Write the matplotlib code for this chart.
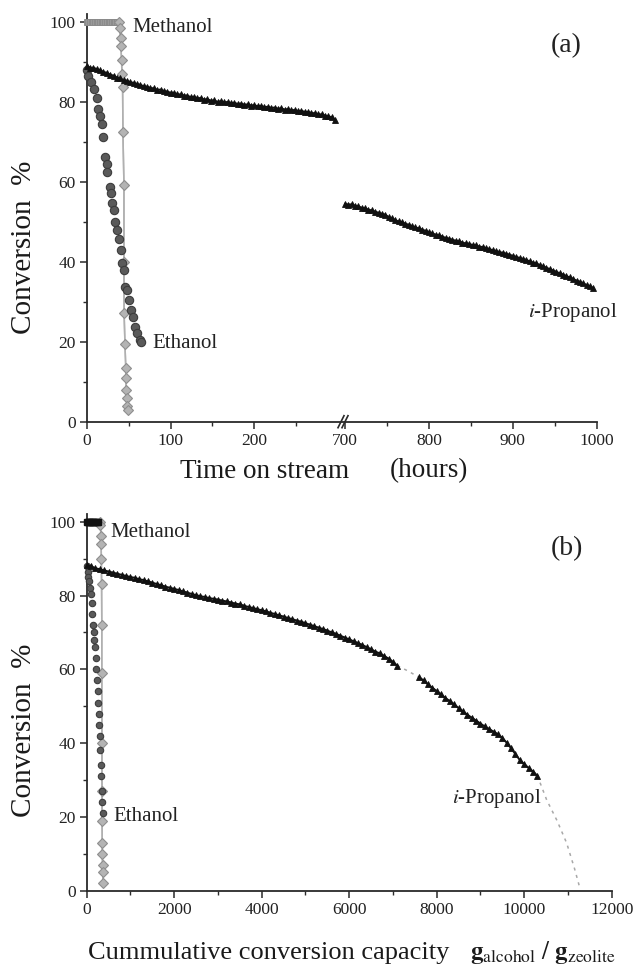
import numpy as np
import matplotlib
matplotlib.use('Agg')
import matplotlib.pyplot as plt
from matplotlib.ticker import MultipleLocator, FixedLocator

plt.rcParams['font.family'] = ['Liberation Serif', 'DejaVu Serif']
plt.rcParams['mathtext.fontset'] = 'stix'

# ---------------- data: panel (a)  time on stream (hours) ----------------
met_a_sq_t = [0, 2, 4, 6, 8, 10, 12, 14, 16, 18, 20, 22, 24, 26, 28, 30, 32, 34, 36]
met_a_sq_v = [100, 100, 100, 100, 100, 100, 100, 100, 100, 100, 100, 100, 100, 100, 100, 100, 100, 100, 100]
met_a_dm_t = [38.5, 39.2, 40.4, 40.8, 41.6, 42.0, 42.8, 43.2, 44.4, 44.4, 44.6, 45.6, 46.6, 46.8, 47.0, 47.6, 48.6, 49.4]
met_a_dm_v = [100, 98.5, 96, 94, 90.4, 87, 83.8, 72.6, 59.2, 40, 27.3, 19.5, 13.5, 11, 8, 6, 4, 3]

eth_a_t = [0, 1.6, 5.6, 8.8, 11.9, 13.9, 15.9, 17.9, 19.1, 21.9, 23.9, 24.8, 28, 29.2, 30, 32,
           34, 36, 38, 40.9, 42, 44, 46, 48, 50, 52.8, 55.3, 57.3, 60, 63.3, 65.3]
eth_a_v = [88, 86.5, 84.9, 83.2, 81.1, 78.2, 76.6, 74.5, 71.2, 66.2, 64.5, 62.5, 58.7, 57.1, 54.6, 52.9,
           50, 47.9, 45.8, 43, 39.6, 37.9, 33.7, 32.9, 30.4, 27.9, 26.3, 23.8, 22.1, 20.4, 20]

ipa_a1_v = [89.0, 88.4, 88.6, 88.2, 87.9, 87.5, 87.3, 86.8, 86.6, 86.1, 85.9, 85.4, 85.3, 84.9, 84.8,
            84.4, 84.3, 83.9, 83.8, 83.5, 83.4, 83.0, 83.1, 82.7, 82.6, 82.3, 82.3, 81.9, 81.9, 81.6,
            81.6, 81.2, 81.3, 80.9, 81.0, 80.6, 80.7, 80.3, 80.4, 80.0, 80.2, 79.9, 80.0, 79.7, 79.8,
            79.5, 79.6, 79.3, 79.4, 79.1, 79.2, 78.9, 79.0, 78.7, 78.8, 78.5, 78.6, 78.3, 78.4, 78.1,
            78.2, 77.9, 78.0, 77.7, 77.8, 77.5, 77.5, 77.2, 77.2, 76.9, 76.9, 76.6, 76.4, 76.2, 75.6]
ipa_a1_t = np.arange(0, 300, 4)
ipa_a2_v = [54.5, 54.3, 54.4, 54.0, 53.9, 53.5, 53.4, 53.0, 52.9, 52.5, 52.3, 52.0, 51.8, 51.2, 50.9,
            50.4, 50.1, 49.9, 49.5, 49.3, 48.9, 48.6, 48.4, 48.0, 47.8, 47.4, 47.1, 46.8, 46.6, 46.3,
            46.0, 45.8, 45.5, 45.3, 45.1, 44.8, 44.6, 44.5, 44.2, 44.1, 43.8, 43.7, 43.4, 43.2, 42.9,
            42.7, 42.4, 42.3, 42.0, 41.8, 41.5, 41.2, 41.0, 40.7, 40.5, 40.1, 39.8, 39.6, 39.2, 38.9,
            38.5, 38.2, 37.8, 37.5, 37.1, 36.8, 36.4, 36.1, 35.7, 35.3, 35.0, 34.6, 34.2, 33.9, 33.4]
ipa_a2_t = np.arange(700, 1000, 4)

# ---------------- data: panel (b)  cumulative capacity (g/g) ----------------
met_b_sq_x = [0, 25, 50, 75, 100, 125, 150, 175, 200, 225, 250]
met_b_sq_v = [100, 100, 100, 100, 100, 100, 100, 100, 100, 100, 100]
met_b_dm_x = [305, 315, 325, 330, 335, 340, 345, 345, 348, 350, 352, 355, 358, 362, 366, 370]
met_b_dm_v = [100, 99, 96, 94, 90, 83, 72, 59, 40, 27, 19, 13, 10, 7, 5, 2]

eth_b_x = [0, 20, 40, 60, 80, 100, 115, 130, 145, 160, 175, 190, 205, 220, 235, 250,
           262, 275, 288, 300, 312, 325, 335, 345, 355, 365]
eth_b_v = [88, 86.5, 85, 84, 82, 80.5, 78, 75, 72, 70, 68, 66, 63, 60, 57, 54,
           51, 48, 45, 42, 38, 34, 31, 27, 24, 21]

ipa_b1_v = [88.3, 87.9, 87.4, 87.1, 86.8, 86.5, 86.2, 85.9, 85.6, 85.3, 85.0, 84.8, 84.4, 84.2, 83.8,
            83.5, 83.1, 82.8, 82.4, 82.1, 81.8, 81.5, 81.1, 80.8, 80.4, 80.1, 79.8, 79.6, 79.3, 79.1,
            78.9, 78.6, 78.4, 78.1, 77.8, 77.6, 77.2, 76.9, 76.6, 76.3, 76.0, 75.7, 75.3, 75.0, 74.6,
            74.3, 73.9, 73.6, 73.2, 72.9, 72.5, 72.1, 71.7, 71.3, 70.9, 70.5, 70.0, 69.6, 69.1, 68.6,
            68.1, 67.6, 67.1, 66.6, 66.0, 65.4, 64.8, 64.3, 63.6, 62.9, 62.0, 61.0]
ipa_b1_x = np.arange(0, 7200, 100)
ipa_b2_v = [57.8, 57.0, 55.9, 55.0, 54.1, 53.2, 52.2, 51.4, 50.5, 49.5, 48.6, 47.7, 46.9, 46.1,
            45.3, 44.5, 43.8, 43.1, 42.4, 41.4, 40.1, 38.6, 37.0, 35.4, 34.3, 33.3, 32.3, 31.2]
ipa_b2_x = np.arange(7600, 10400, 100)
gap_b_x = [7100, 7350, 7600]
gap_b_v = [61.0, 59.5, 57.8]
ext_b_x = [10300, 10514, 10750, 10971, 11150, 11275]
ext_b_v = [31.2, 24.6, 19.0, 12.9, 6.0, 0.6]

# ---------------- layout (pixels) ----------------
W, H = 635, 967
fig = plt.figure(figsize=(W / 100, H / 100), dpi=100)


def fx(px):
    return px / W


def fy(py):
    return 1 - py / H


YMAX = 102
# panel (a)
a_y0, a_y100 = 421.7, 22.0
a_ppu = (a_y0 - a_y100) / 100
a_top = a_y0 - YMAX * a_ppu
a_x0, a_xb, a_x1 = 86.7, 345.0, 596.7
a_h = (a_y0 - a_top) / H
axL = fig.add_axes([fx(a_x0), fy(a_y0), (a_xb - a_x0) / W, a_h])
axR = fig.add_axes([fx(a_xb), fy(a_y0), (a_x1 - a_xb) / W, a_h], sharey=axL)
axL.set_xlim(0, 308)
axR.set_xlim(700, 1000)

# panel (b)
b_y0, b_y100 = 890.7, 521.7
b_ppu = (b_y0 - b_y100) / 100
b_top = b_y0 - YMAX * b_ppu
b_x0, b_x1 = 86.7, 611.7
axB = fig.add_axes([fx(b_x0), fy(b_y0), (b_x1 - b_x0) / W, (b_y0 - b_top) / H])
axB.set_xlim(0, 12000)

SPC = '#2a2a2a'
for ax in (axL, axR, axB):
    ax.set_ylim(0, YMAX)
    for s in ('top', 'right'):
        ax.spines[s].set_visible(False)
    for s in ('left', 'bottom'):
        ax.spines[s].set_linewidth(1.3)
        ax.spines[s].set_color(SPC)
    ax.tick_params(which='major', direction='out', length=5, width=1.1, colors=SPC,
                   labelsize=12.5, pad=3, labelcolor='#222222')
    ax.tick_params(which='minor', direction='out', length=3, width=1.0, colors=SPC)
    ax.patch.set_alpha(0)

axR.spines['left'].set_visible(False)
axR.tick_params(axis='y', which='both', left=False, labelleft=False)

for ax in (axL, axB):
    ax.yaxis.set_major_locator(FixedLocator([0, 20, 40, 60, 80, 100]))
    ax.yaxis.set_minor_locator(FixedLocator([10, 30, 50, 70, 90]))
axL.xaxis.set_major_locator(FixedLocator([0, 100, 200]))
axL.xaxis.set_minor_locator(FixedLocator([50, 150, 250]))
axR.xaxis.set_major_locator(FixedLocator([700, 800, 900, 1000]))
axR.xaxis.set_minor_locator(FixedLocator([750, 850, 950]))
axB.xaxis.set_major_locator(MultipleLocator(2000))
axB.xaxis.set_minor_locator(MultipleLocator(1000))

# ---------------- styles ----------------
MET_LINE = '#b0b0b0'
sq_a = dict(marker='s', ms=4.2, mfc='#9a9a9a', mec='#8a8a8a', mew=0.6, ls='none')
dm = dict(marker='D', ms=4.6, mfc='#b4b4b4', mec='#8e8e8e', mew=0.8)
eth = dict(marker='o', ms=6.0, mfc='#5a5a5a', mec='#3c3c3c', mew=0.8, ls='none')
ipa = dict(marker='^', ms=4.7, mfc='#111111', mec='#111111', mew=0.6, color='#111111', lw=1.4)

# ---------------- panel (a) ----------------
axL.plot(met_a_sq_t + met_a_dm_t, met_a_sq_v + met_a_dm_v, color=MET_LINE, lw=1.1, zorder=2)
axL.plot(met_a_sq_t, met_a_sq_v, clip_on=False, zorder=3, **sq_a)
axL.plot(met_a_dm_t, met_a_dm_v, color=MET_LINE, lw=1.1, clip_on=False, zorder=4, **dm)
axL.plot(eth_a_t, eth_a_v, clip_on=False, zorder=5, **eth)
axL.plot(ipa_a1_t, ipa_a1_v, clip_on=False, zorder=6, **ipa)
axR.plot(ipa_a2_t, ipa_a2_v, clip_on=False, zorder=6, **ipa)

tfs = 15
axL.text(55, 98.5, 'Methanol', fontsize=tfs, va='center', ha='left', color='#222222')
axL.text(78, 19.6, 'Ethanol', fontsize=tfs, va='center', ha='left', color='#222222')
axR.text(918, 27.3, r'$\mathit{i}$-Propanol', fontsize=tfs, va='center', ha='left',
         color='#222222', clip_on=False)
axR.text(964, 94, '(a)', fontsize=20, va='center', ha='center', color='#222222')

# axis break marks at 700
sx, sy = 1.0 / (a_x1 - a_xb), 1.0 / (a_y0 - a_top)
for off in (-4, 0):
    axR.plot([(off - 3) * sx, (off + 3) * sx], [-6 * sy, 6 * sy], transform=axR.transAxes,
             color=SPC, lw=1.2, clip_on=False, zorder=10)

fig.text(fx(180), fy(471), 'Time on stream', fontsize=19.5, ha='left', va='center',
         color='#1a1a1a')
fig.text(fx(390), fy(471), '(hours)', fontsize=19.5, ha='left', va='center', color='#1a1a1a')

# ---------------- panel (b) ----------------
axB.plot(gap_b_x, gap_b_v, color='#a8a8a8', lw=1.1, ls=(0, (2, 3)), zorder=2)
axB.plot(ext_b_x, ext_b_v, color='#a8a8a8', lw=1.1, ls=(0, (2, 3)), zorder=2)
axB.plot(met_b_sq_x + met_b_dm_x, met_b_sq_v + met_b_dm_v, color=MET_LINE, lw=1.1, zorder=2)
axB.plot(met_b_sq_x, met_b_sq_v, marker='s', ms=4.2, mfc='#111111', mec='#111111', ls='none',
         clip_on=False, zorder=6)
axB.plot(met_b_dm_x, met_b_dm_v, color=MET_LINE, lw=1.1, clip_on=False, zorder=4, **dm)
axB.plot(eth_b_x, eth_b_v, clip_on=False, zorder=5, **dict(eth, ms=4.6))
axB.plot(ipa_b1_x, ipa_b1_v, clip_on=False, zorder=6, **dict(ipa, ms=4.2))
axB.plot(ipa_b2_x, ipa_b2_v, clip_on=False, zorder=6, **dict(ipa, ms=4.2))

axB.text(533, 97.2, 'Methanol', fontsize=tfs, va='center', ha='left', color='#222222')
axB.text(600, 20, 'Ethanol', fontsize=tfs, va='center', ha='left', color='#222222')
axB.text(8343, 25.1, r'$\mathit{i}$-Propanol', fontsize=tfs, va='center', ha='left', color='#222222')
axB.text(10978, 92.7, '(b)', fontsize=20, va='center', ha='center', color='#222222')

fig.text(fx(88), fy(953), 'Cummulative conversion capacity', fontsize=19, ha='left',
         va='center', color='#1a1a1a')
fig.text(fx(470), fy(953), r'$\mathbf{g}_{\mathrm{alcohol}}\ /\ \mathbf{g}_{\mathrm{zeolite}}$',
         fontsize=18, ha='left', va='center', color='#1a1a1a')

# y labels
for yc in (247, 730):
    fig.text(fx(24), fy(yc), 'Conversion  %', fontsize=21, rotation=90, ha='center',
             va='center', color='#1a1a1a')

fig.savefig('out.png', dpi=100, facecolor='white')
